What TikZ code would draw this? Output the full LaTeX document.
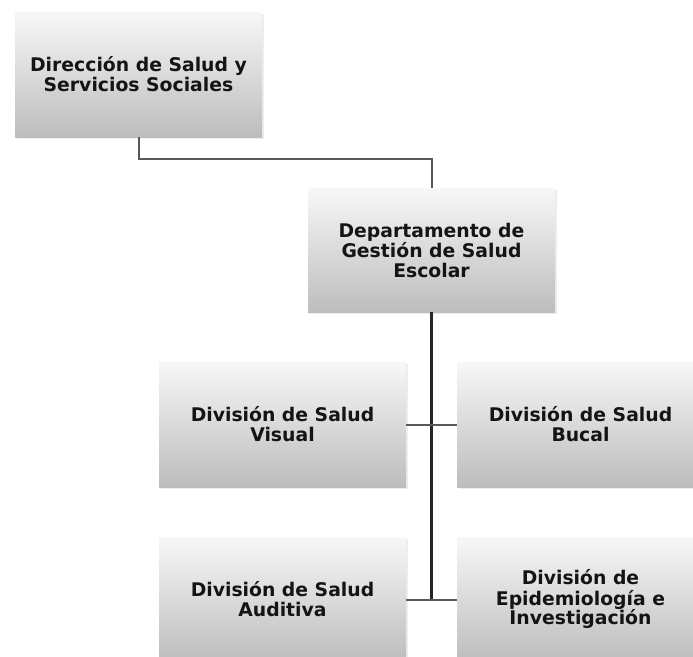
\documentclass[tikz,border=0pt]{standalone}
\usepackage{fontspec}
\setmainfont{DejaVu Sans}
\usepackage{tikz}
\usetikzlibrary{positioning,shadows}

\begin{document}
\begin{tikzpicture}[x=1pt,y=-1pt,
  unit/.style={shade,top color=white!97!black,bottom color=black!26,
    minimum width=247pt,minimum height=125pt,inner sep=0pt,align=center,
    font=\fontsize{18.8}{20}\selectfont\bfseries,text=black!92,
    general shadow={fill=black!7,shadow xshift=1.5pt,shadow yshift=-2pt}},
  link/.style={draw=black!65,line width=2pt},
  trunk/.style={draw=black!85,line width=2.4pt}]
\useasboundingbox (0,0) rectangle (693,656);
\clip (0,0) rectangle (693,656);
\node[unit] (dir) at (138.5,74.5) {Dirección de Salud y\\Servicios Sociales};
\node[unit,minimum height=124pt] (dep) at (431.5,250) {Departamento de\\Gestión de Salud\\Escolar};
\node[unit] (vis) at (282.5,424.5) {División de Salud\\Visual};
\node[unit] (buc) at (580.5,424.5) {División de Salud\\Bucal};
\node[unit] (aud) at (282.5,599.5) {División de Salud\\Auditiva};
\node[unit] (epi) at (580.5,599.5) {División de\\Epidemiología e\\Investigación};
% connectors
\draw[link] (dir.south) -- ++(0,22) -| (dep.north);
\draw[trunk] (dep.south) -- (dep.south |- aud.east);
\draw[link] (vis.east) -- (buc.west);
\draw[link] (aud.east) -- (epi.west);
\end{tikzpicture}
\end{document}
